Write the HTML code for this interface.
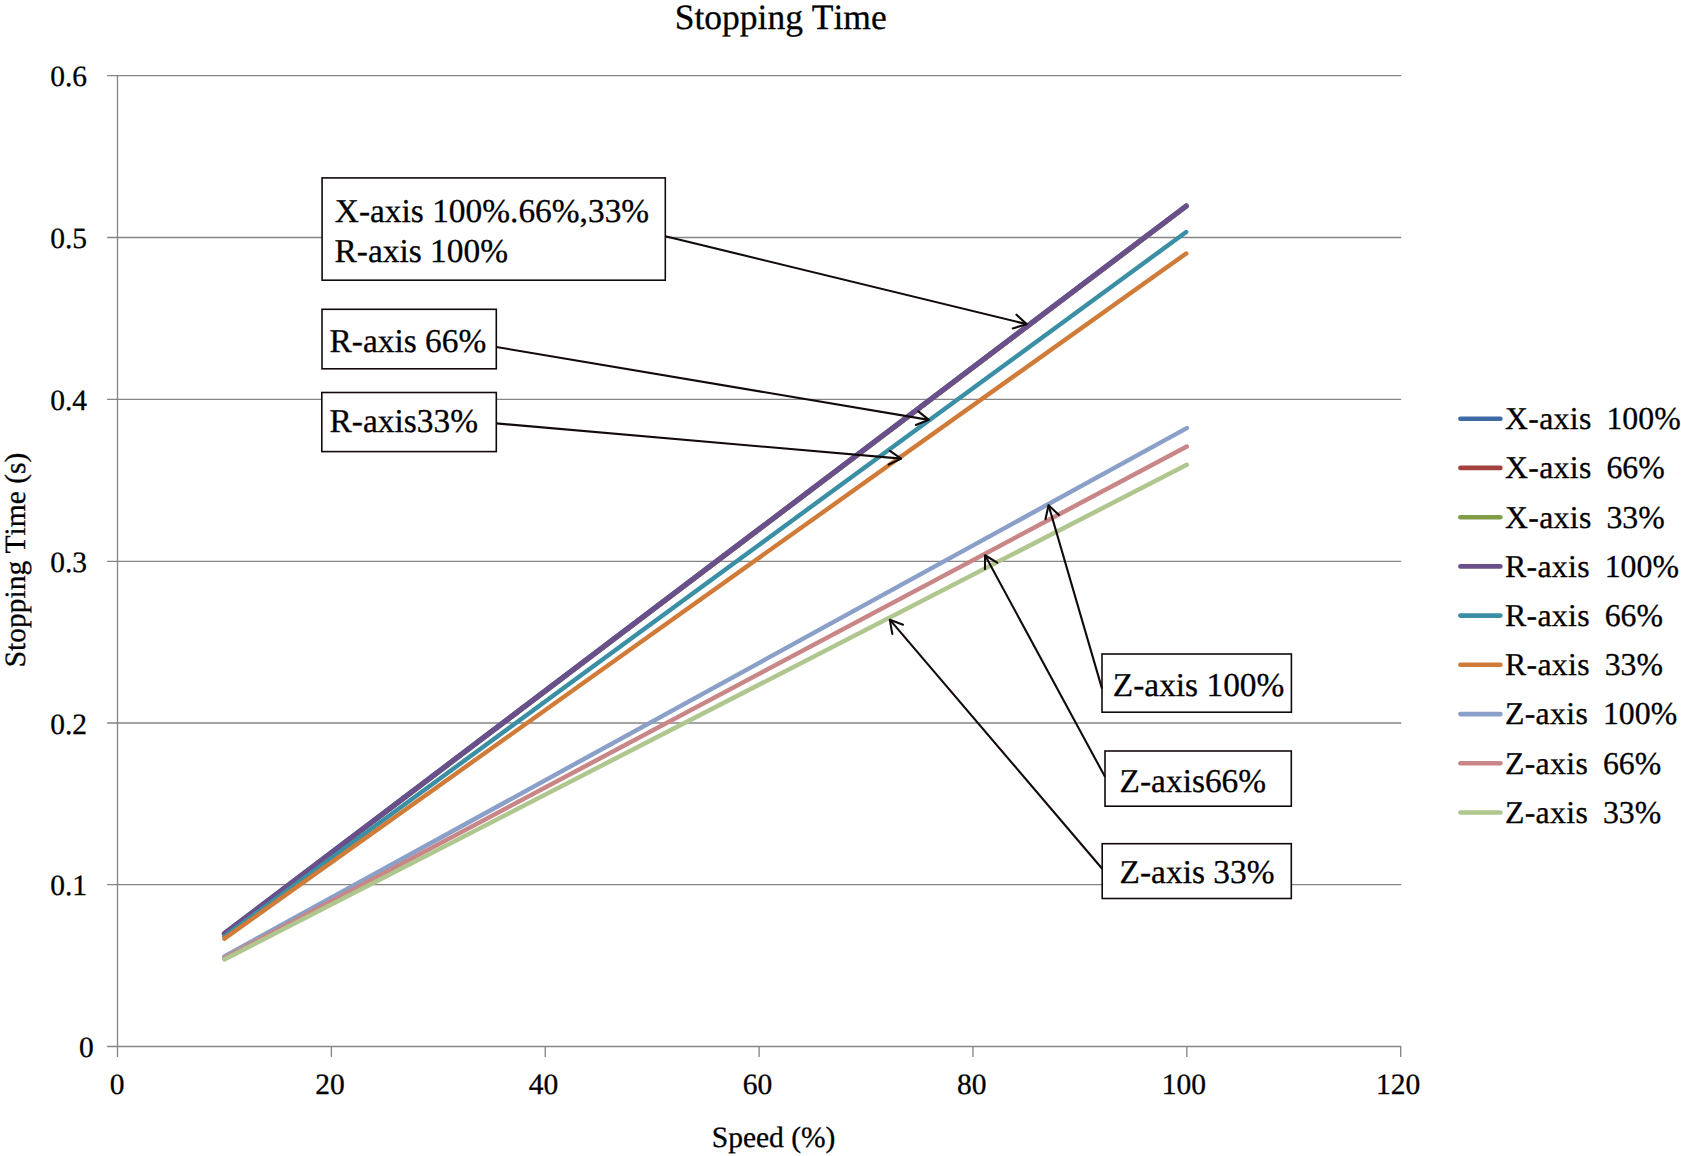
<!DOCTYPE html>
<html><head><meta charset="utf-8"><title>Stopping Time</title>
<style>html,body{margin:0;padding:0;background:#fff;}body{width:1681px;height:1156px;position:relative;overflow:hidden;font-family:"Liberation Serif",serif;}</style></head>
<body>
<svg width="1681" height="1156" viewBox="0 0 1681 1156" style="position:absolute;left:0;top:0;font-kerning:none;text-rendering:geometricPrecision"><style>text{stroke:#000;stroke-width:0.3px;paint-order:stroke fill}</style>
<rect x="0" y="0" width="1681" height="1156" fill="#ffffff"/>
<g stroke="#858585" stroke-width="1.33" fill="none">
<line x1="107.10" y1="1046.50" x2="1401.20" y2="1046.50"/>
<line x1="107.10" y1="884.67" x2="1401.20" y2="884.67"/>
<line x1="107.10" y1="723.00" x2="1401.20" y2="723.00"/>
<line x1="107.10" y1="561.33" x2="1401.20" y2="561.33"/>
<line x1="107.10" y1="399.33" x2="1401.20" y2="399.33"/>
<line x1="107.10" y1="237.50" x2="1401.20" y2="237.50"/>
<line x1="107.10" y1="75.67" x2="1401.20" y2="75.67"/>
<line x1="117.50" y1="75.17" x2="117.50" y2="1056.90"/>
<line x1="331.37" y1="1046.50" x2="331.37" y2="1056.90"/>
<line x1="545.23" y1="1046.50" x2="545.23" y2="1056.90"/>
<line x1="759.10" y1="1046.50" x2="759.10" y2="1056.90"/>
<line x1="972.97" y1="1046.50" x2="972.97" y2="1056.90"/>
<line x1="1186.83" y1="1046.50" x2="1186.83" y2="1056.90"/>
<line x1="1400.70" y1="1046.50" x2="1400.70" y2="1056.90"/>
</g>
<g font-family="'Liberation Serif', serif" font-size="29.5" fill="#000" text-anchor="end">
<text x="93.7" y="1057.0">0</text>
<text x="87.0" y="895.2">0.1</text>
<text x="87.0" y="733.5">0.2</text>
<text x="87.0" y="571.8">0.3</text>
<text x="87.0" y="409.8">0.4</text>
<text x="87.0" y="248.0">0.5</text>
<text x="87.0" y="86.2">0.6</text>
</g>
<g font-family="'Liberation Serif', serif" font-size="29.5" fill="#000" text-anchor="middle">
<text x="117.2" y="1093.8">0</text>
<text x="329.9" y="1093.8">20</text>
<text x="543.5" y="1093.8">40</text>
<text x="757.6" y="1093.8">60</text>
<text x="971.8" y="1093.8">80</text>
<text x="1183.8" y="1093.8">100</text>
<text x="1398.1" y="1093.8">120</text>
</g>
<g fill="none" stroke-linecap="round">
<line x1="224.4" y1="933.2" x2="1186.2" y2="205.7" stroke="#3E6BA3" stroke-width="4.5"/>
<line x1="224.4" y1="933.9" x2="1186.2" y2="206.4" stroke="#A3413F" stroke-width="4.5"/>
<line x1="224.4" y1="934.1" x2="1186.2" y2="206.5" stroke="#809C48" stroke-width="4.5"/>
<line x1="224.4" y1="933.7" x2="1186.2" y2="206.0" stroke="#69508A" stroke-width="5.3"/>
<line x1="224.4" y1="936.4" x2="1186.2" y2="232.0" stroke="#3A8FA5" stroke-width="4.4"/>
<line x1="224.4" y1="938.6" x2="1186.2" y2="253.5" stroke="#D07B38" stroke-width="4.4"/>
<line x1="224.4" y1="956.4" x2="1186.8" y2="428.1" stroke="#8AA0C8" stroke-width="4.5"/>
<line x1="224.4" y1="958.0" x2="1186.8" y2="446.5" stroke="#C98686" stroke-width="4.5"/>
<line x1="224.4" y1="959.5" x2="1186.8" y2="464.8" stroke="#AFC78F" stroke-width="4.5"/>
</g>
<g stroke-linecap="round" stroke-width="4.6" fill="none">
<line x1="1460.4" y1="418.7" x2="1500.4" y2="418.7" stroke="#3E6BA3"/>
<line x1="1460.4" y1="467.9" x2="1500.4" y2="467.9" stroke="#A3413F"/>
<line x1="1460.4" y1="517.2" x2="1500.4" y2="517.2" stroke="#809C48"/>
<line x1="1460.4" y1="566.4" x2="1500.4" y2="566.4" stroke="#69508A"/>
<line x1="1460.4" y1="615.6" x2="1500.4" y2="615.6" stroke="#3A8FA5"/>
<line x1="1460.4" y1="664.8" x2="1500.4" y2="664.8" stroke="#D07B38"/>
<line x1="1460.4" y1="714.1" x2="1500.4" y2="714.1" stroke="#8AA0C8"/>
<line x1="1460.4" y1="763.3" x2="1500.4" y2="763.3" stroke="#C98686"/>
<line x1="1460.4" y1="812.5" x2="1500.4" y2="812.5" stroke="#AFC78F"/>
</g>
<g font-family="'Liberation Serif', serif" font-size="31.8" fill="#000">
<text x="1504.9" y="429.0" xml:space="preserve" style="white-space:pre"><tspan letter-spacing="0.35">X-axis</tspan><tspan dx="-1.2">  100%</tspan></text>
<text x="1504.9" y="478.2" xml:space="preserve" style="white-space:pre"><tspan letter-spacing="0.35">X-axis</tspan><tspan dx="-1.2">  66%</tspan></text>
<text x="1504.9" y="527.5" xml:space="preserve" style="white-space:pre"><tspan letter-spacing="0.35">X-axis</tspan><tspan dx="-1.2">  33%</tspan></text>
<text x="1504.9" y="576.7" xml:space="preserve" style="white-space:pre"><tspan letter-spacing="0.35">R-axis</tspan><tspan dx="-1.2">  100%</tspan></text>
<text x="1504.9" y="625.9" xml:space="preserve" style="white-space:pre"><tspan letter-spacing="0.35">R-axis</tspan><tspan dx="-1.2">  66%</tspan></text>
<text x="1504.9" y="675.1" xml:space="preserve" style="white-space:pre"><tspan letter-spacing="0.35">R-axis</tspan><tspan dx="-1.2">  33%</tspan></text>
<text x="1504.9" y="724.4" xml:space="preserve" style="white-space:pre"><tspan letter-spacing="0.35">Z-axis</tspan><tspan dx="-1.2">  100%</tspan></text>
<text x="1504.9" y="773.6" xml:space="preserve" style="white-space:pre"><tspan letter-spacing="0.35">Z-axis</tspan><tspan dx="-1.2">  66%</tspan></text>
<text x="1504.9" y="822.8" xml:space="preserve" style="white-space:pre"><tspan letter-spacing="0.35">Z-axis</tspan><tspan dx="-1.2">  33%</tspan></text>
</g>
<text x="780.7" y="29" font-family="'Liberation Serif', serif" font-size="35.5" text-anchor="middle" fill="#000">Stopping Time</text>
<text x="773.6" y="1146.6" font-family="'Liberation Serif', serif" font-size="29.5" text-anchor="middle" fill="#000">Speed (%)</text>
<text transform="translate(24.6,560) rotate(-90)" font-family="'Liberation Serif', serif" font-size="29.5" text-anchor="middle" fill="#000">Stopping Time (s)</text>
<g fill="#fff" stroke="#120a0a" stroke-width="1.6">
<rect x="322.1" y="177.9" width="343.2" height="102.3"/>
<rect x="322.0" y="309.3" width="174.3" height="59.5"/>
<rect x="321.8" y="392.5" width="174.5" height="59.1"/>
<rect x="1102.0" y="654.0" width="189.4" height="58.2"/>
<rect x="1105.0" y="751.0" width="186.3" height="55.2"/>
<rect x="1102.2" y="843.7" width="189.1" height="54.8"/>
</g>
<g font-family="'Liberation Serif', serif" font-size="33.4" fill="#000">
<text x="334.8" y="221.9">X-axis 100%.66%,33%</text>
<text x="334.6" y="261.9">R-axis 100%</text>
<text x="329.6" y="351.9">R-axis 66%</text>
<text x="329.6" y="431.8">R-axis33%</text>
<text x="1112.8" y="695.8">Z-axis 100%</text>
<text x="1119.6" y="791.8">Z-axis66%</text>
<text x="1119.6" y="882.6">Z-axis 33%</text>
</g>
<g fill="none" stroke="#120a0a" stroke-width="2.1" stroke-linecap="round" stroke-linejoin="round">
<line x1="665.3" y1="236.2" x2="1026.63" y2="324.14" stroke-linecap="butt"/>
<polyline points="1016.48,314.69 1026.63,324.14 1012.77,328.46"/>
<line x1="496.3" y1="347.0" x2="928.91" y2="419.85" stroke-linecap="butt"/>
<polyline points="918.32,411.44 928.91,419.85 915.85,424.90"/>
<line x1="496.3" y1="423.4" x2="901.20" y2="458.62" stroke-linecap="butt"/>
<polyline points="889.86,450.79 901.20,458.62 888.72,464.54"/>
<line x1="1102.0" y1="688.6" x2="1048.55" y2="505.16" stroke-linecap="butt"/>
<polyline points="1045.47,519.22 1048.55,505.16 1058.87,515.06"/>
<line x1="1105.0" y1="776.8" x2="985.03" y2="555.24" stroke-linecap="butt"/>
<polyline points="984.98,569.10 985.03,555.24 997.24,562.61"/>
<line x1="1102.2" y1="868.7" x2="889.78" y2="619.68" stroke-linecap="butt"/>
<polyline points="892.32,633.92 889.78,619.68 903.07,624.66"/>
</g>
</svg>
</body></html>
